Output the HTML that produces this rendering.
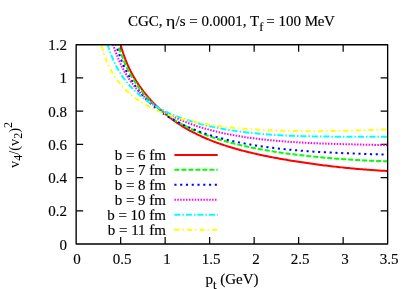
<!DOCTYPE html>
<html><head><meta charset="utf-8"><title>plot</title>
<style>
html,body{margin:0;padding:0;background:#fff;}
body{width:413px;height:289px;position:relative;overflow:hidden;font-family:"Liberation Serif",serif;font-size:15px;color:#000;}
.t{position:absolute;white-space:nowrap;line-height:16px;height:16px;will-change:transform;-webkit-text-stroke:0.15px #000;}
.r{text-align:right;}
.c{text-align:center;}
sub,sup{font-size:12.5px;line-height:0;vertical-align:baseline;position:relative;}
sub{top:5px;}
.rot{font-size:14.4px;-webkit-text-stroke:0;}
.rot sub,.rot sup{font-size:12px;}
.rot sub{top:3.2px;}
sup{top:-7.5px;}
</style></head><body>
<svg width="413" height="289" viewBox="0 0 413 289" style="position:absolute;left:0;top:0">
<defs><clipPath id="c"><rect x="76.15" y="44.7" width="311.5" height="199.3"/></clipPath></defs>
<path d="M120.65,244.0 v-7 M120.65,44.7 v7 M165.15,244.0 v-7 M165.15,44.7 v7 M209.65,244.0 v-7 M209.65,44.7 v7 M254.15,244.0 v-7 M254.15,44.7 v7 M298.65,244.0 v-7 M298.65,44.7 v7 M343.15,244.0 v-7 M343.15,44.7 v7 M76.15,210.78 h7 M387.65,210.78 h-7 M76.15,177.57 h7 M387.65,177.57 h-7 M76.15,144.35 h7 M387.65,144.35 h-7 M76.15,111.13 h7 M387.65,111.13 h-7 M76.15,77.92 h7 M387.65,77.92 h-7" fill="none" stroke="#000" stroke-width="1.2"/>
<g clip-path="url(#c)" fill="none" stroke-width="2">
<path d="M117.44,31.44 L117.85,33.40 L118.26,35.29 L118.67,37.10 L119.09,38.84 L119.50,40.52 L119.91,42.14 L120.32,43.71 L120.73,45.22 L121.14,46.68 L121.56,48.09 L121.97,49.46 L122.38,50.78 L122.79,52.07 L123.20,53.31 L123.61,54.53 L124.03,55.70 L124.44,56.85 L124.85,57.96 L125.26,59.05 L125.67,60.11 L126.08,61.14 L126.50,62.15 L126.91,63.14 L127.32,64.10 L127.73,65.04 L128.14,65.97 L128.55,66.87 L128.97,67.75 L129.38,68.62 L129.79,69.47 L130.20,70.30 L130.61,71.12 L131.02,71.92 L131.44,72.71 L131.85,73.49 L132.26,74.25 L132.67,75.00 L133.08,75.74 L133.49,76.46 L133.91,77.18 L134.32,77.88 L134.73,78.58 L135.14,79.26 L135.55,79.93 L135.96,80.60 L136.37,81.26 L136.79,81.90 L137.20,82.54 L137.61,83.17 L138.02,83.80 L138.43,84.41 L138.84,85.02 L139.26,85.62 L139.67,86.21 L140.08,86.80 L140.49,87.38 L140.90,87.95 L141.31,88.52 L141.73,89.08 L142.14,89.63 L142.55,90.18 L142.96,90.73 L143.37,91.26 L143.78,91.80 L144.20,92.32 L144.61,92.85 L145.02,93.36 L145.43,93.87 L145.84,94.38 L146.25,94.88 L146.67,95.38 L147.08,95.87 L147.49,96.36 L147.90,96.84 L148.31,97.32 L148.72,97.80 L149.14,98.27 L149.55,98.73 L149.96,99.20 L150.37,99.65 L150.78,100.11 L151.19,100.56 L151.60,101.01 L152.02,101.45 L152.43,101.89 L152.84,102.32 L153.25,102.75 L153.66,103.18 L154.07,103.61 L154.49,104.03 L154.90,104.45 L155.31,104.86 L155.72,105.27 L156.13,105.68 L156.54,106.08 L156.96,106.48 L157.37,106.88 L157.78,107.28 L158.19,107.67 L158.60,108.06 L159.01,108.44 L159.43,108.83 L159.84,109.21 L160.25,109.58 L160.66,109.96 L161.07,110.33 L161.48,110.70 L161.90,111.06 L162.31,111.43 L162.72,111.79 L163.13,112.14 L163.54,112.50 L163.95,112.85 L164.37,113.20 L164.78,113.55 L165.19,113.89 L165.60,114.23 L166.01,114.57 L166.42,114.91 L166.83,115.24 L167.25,115.57 L167.66,115.90 L168.07,116.23 L168.48,116.55 L168.89,116.88 L169.30,117.19 L169.72,117.51 L170.13,117.83 L170.54,118.14 L170.95,118.45 L171.36,118.76 L171.77,119.07 L172.19,119.37 L172.60,119.67 L173.01,119.97 L173.42,120.27 L173.83,120.56 L174.24,120.86 L174.66,121.15 L175.07,121.44 L175.48,121.72 L175.89,122.01 L176.30,122.29 L176.71,122.57 L177.13,122.85 L177.54,123.13 L177.95,123.41 L178.36,123.68 L178.77,123.95 L179.18,124.22 L179.60,124.49 L180.01,124.75 L180.42,125.02 L180.83,125.28 L181.24,125.54 L181.65,125.80 L182.07,126.06 L182.48,126.31 L182.89,126.56 L183.30,126.82 L185.02,127.85 L186.74,128.85 L188.46,129.83 L190.18,130.78 L191.90,131.70 L193.62,132.60 L195.34,133.48 L197.06,134.33 L198.78,135.15 L200.50,135.96 L202.22,136.75 L203.94,137.51 L205.66,138.26 L207.38,138.99 L209.10,139.69 L210.82,140.38 L212.54,141.06 L214.26,141.72 L215.98,142.36 L217.70,142.98 L219.42,143.60 L221.14,144.19 L222.86,144.78 L224.58,145.35 L226.30,145.91 L228.02,146.45 L229.74,146.98 L231.46,147.50 L233.18,148.01 L234.91,148.51 L236.63,149.00 L238.35,149.48 L240.07,149.95 L241.79,150.41 L243.51,150.86 L245.23,151.30 L246.95,151.73 L248.67,152.16 L250.39,152.58 L252.11,152.98 L253.83,153.39 L255.55,153.78 L257.27,154.17 L258.99,154.55 L260.71,154.92 L262.43,155.29 L264.15,155.65 L265.87,156.01 L267.59,156.35 L269.31,156.70 L271.03,157.04 L272.75,157.37 L274.47,157.70 L276.19,158.02 L277.91,158.34 L279.63,158.65 L281.35,158.96 L283.07,159.26 L284.79,159.56 L286.51,159.85 L288.23,160.14 L289.95,160.43 L291.67,160.71 L293.39,160.99 L295.11,161.27 L296.83,161.54 L298.55,161.80 L300.27,162.07 L301.99,162.33 L303.71,162.58 L305.43,162.83 L307.15,163.08 L308.87,163.33 L310.59,163.57 L312.31,163.81 L314.03,164.04 L315.75,164.27 L317.47,164.50 L319.19,164.73 L320.91,164.95 L322.63,165.17 L324.35,165.39 L326.07,165.60 L327.79,165.81 L329.51,166.02 L331.23,166.22 L332.95,166.42 L334.67,166.62 L336.39,166.81 L338.12,167.00 L339.84,167.19 L341.56,167.37 L343.28,167.55 L345.00,167.73 L346.72,167.91 L348.44,168.08 L350.16,168.24 L351.88,168.41 L353.60,168.57 L355.32,168.73 L357.04,168.88 L358.76,169.04 L360.48,169.18 L362.20,169.33 L363.92,169.47 L365.64,169.61 L367.36,169.74 L369.08,169.87 L370.80,170.00 L372.52,170.12 L374.24,170.24 L375.96,170.35 L377.68,170.47 L379.40,170.57 L381.12,170.68 L382.84,170.78 L384.56,170.87 L386.28,170.96 L388.00,171.05" stroke="#ff0000"/>
<path d="M115.22,33.60 L115.64,35.36 L116.07,37.05 L116.49,38.70 L116.92,40.29 L117.34,41.83 L117.77,43.33 L118.19,44.78 L118.62,46.19 L119.04,47.56 L119.47,48.89 L119.90,50.19 L120.32,51.46 L120.75,52.69 L121.17,53.89 L121.60,55.06 L122.02,56.20 L122.45,57.32 L122.87,58.41 L123.30,59.48 L123.73,60.52 L124.15,61.54 L124.58,62.54 L125.00,63.52 L125.43,64.48 L125.85,65.41 L126.28,66.33 L126.70,67.24 L127.13,68.12 L127.56,68.99 L127.98,69.85 L128.41,70.68 L128.83,71.51 L129.26,72.32 L129.68,73.11 L130.11,73.89 L130.53,74.66 L130.96,75.42 L131.39,76.17 L131.81,76.90 L132.24,77.62 L132.66,78.33 L133.09,79.03 L133.51,79.72 L133.94,80.40 L134.36,81.07 L134.79,81.73 L135.21,82.38 L135.64,83.02 L136.07,83.66 L136.49,84.28 L136.92,84.90 L137.34,85.51 L137.77,86.11 L138.19,86.70 L138.62,87.29 L139.04,87.86 L139.47,88.43 L139.90,89.00 L140.32,89.55 L140.75,90.10 L141.17,90.65 L141.60,91.18 L142.02,91.72 L142.45,92.24 L142.87,92.76 L143.30,93.27 L143.73,93.78 L144.15,94.28 L144.58,94.77 L145.00,95.26 L145.43,95.75 L145.85,96.23 L146.28,96.70 L146.70,97.17 L147.13,97.64 L147.56,98.10 L147.98,98.55 L148.41,99.00 L148.83,99.45 L149.26,99.89 L149.68,100.32 L150.11,100.76 L150.53,101.18 L150.96,101.61 L151.39,102.03 L151.81,102.44 L152.24,102.85 L152.66,103.26 L153.09,103.66 L153.51,104.06 L153.94,104.46 L154.36,104.85 L154.79,105.24 L155.21,105.62 L155.64,106.01 L156.07,106.38 L156.49,106.76 L156.92,107.13 L157.34,107.49 L157.77,107.86 L158.19,108.22 L158.62,108.58 L159.04,108.93 L159.47,109.28 L159.90,109.63 L160.32,109.98 L160.75,110.32 L161.17,110.66 L161.60,110.99 L162.02,111.33 L162.45,111.66 L162.87,111.98 L163.30,112.31 L163.73,112.63 L164.15,112.95 L164.58,113.27 L165.00,113.58 L165.43,113.89 L165.85,114.20 L166.28,114.51 L166.70,114.81 L167.13,115.11 L167.56,115.41 L167.98,115.71 L168.41,116.00 L168.83,116.29 L169.26,116.58 L169.68,116.87 L170.11,117.16 L170.53,117.44 L170.96,117.72 L171.39,118.00 L171.81,118.27 L172.24,118.55 L172.66,118.82 L173.09,119.09 L173.51,119.36 L173.94,119.62 L174.36,119.88 L174.79,120.15 L175.21,120.40 L175.64,120.66 L176.07,120.92 L176.49,121.17 L176.92,121.42 L177.34,121.67 L177.77,121.92 L178.19,122.17 L178.62,122.41 L179.04,122.65 L179.47,122.89 L179.90,123.13 L180.32,123.37 L180.75,123.60 L181.17,123.84 L181.60,124.07 L182.02,124.30 L182.45,124.53 L182.87,124.76 L183.30,124.98 L185.02,125.88 L186.74,126.74 L188.46,127.59 L190.18,128.41 L191.90,129.21 L193.62,129.99 L195.34,130.74 L197.06,131.48 L198.78,132.20 L200.50,132.90 L202.22,133.58 L203.94,134.24 L205.66,134.89 L207.38,135.52 L209.10,136.13 L210.82,136.73 L212.54,137.32 L214.26,137.89 L215.98,138.45 L217.70,138.99 L219.42,139.53 L221.14,140.05 L222.86,140.55 L224.58,141.05 L226.30,141.54 L228.02,142.01 L229.74,142.47 L231.46,142.93 L233.18,143.37 L234.91,143.80 L236.63,144.23 L238.35,144.64 L240.07,145.05 L241.79,145.45 L243.51,145.84 L245.23,146.22 L246.95,146.59 L248.67,146.96 L250.39,147.32 L252.11,147.67 L253.83,148.01 L255.55,148.35 L257.27,148.68 L258.99,149.01 L260.71,149.32 L262.43,149.63 L264.15,149.94 L265.87,150.24 L267.59,150.53 L269.31,150.82 L271.03,151.10 L272.75,151.38 L274.47,151.65 L276.19,151.92 L277.91,152.18 L279.63,152.44 L281.35,152.69 L283.07,152.93 L284.79,153.18 L286.51,153.41 L288.23,153.65 L289.95,153.88 L291.67,154.10 L293.39,154.32 L295.11,154.54 L296.83,154.75 L298.55,154.96 L300.27,155.16 L301.99,155.36 L303.71,155.56 L305.43,155.75 L307.15,155.94 L308.87,156.13 L310.59,156.31 L312.31,156.49 L314.03,156.66 L315.75,156.83 L317.47,157.00 L319.19,157.17 L320.91,157.33 L322.63,157.49 L324.35,157.64 L326.07,157.79 L327.79,157.94 L329.51,158.09 L331.23,158.23 L332.95,158.37 L334.67,158.50 L336.39,158.64 L338.12,158.77 L339.84,158.90 L341.56,159.02 L343.28,159.14 L345.00,159.26 L346.72,159.38 L348.44,159.49 L350.16,159.60 L351.88,159.71 L353.60,159.81 L355.32,159.91 L357.04,160.01 L358.76,160.11 L360.48,160.20 L362.20,160.30 L363.92,160.38 L365.64,160.47 L367.36,160.55 L369.08,160.63 L370.80,160.71 L372.52,160.78 L374.24,160.86 L375.96,160.93 L377.68,160.99 L379.40,161.06 L381.12,161.12 L382.84,161.18 L384.56,161.23 L386.28,161.29 L388.00,161.34" stroke="#00ff00" stroke-dasharray="5 2" stroke-dashoffset="-0.5"/>
<path d="M112.99,33.28 L113.43,35.06 L113.87,36.79 L114.31,38.47 L114.75,40.10 L115.19,41.69 L115.63,43.23 L116.07,44.73 L116.51,46.19 L116.94,47.62 L117.38,49.00 L117.82,50.35 L118.26,51.67 L118.70,52.96 L119.14,54.21 L119.58,55.44 L120.02,56.63 L120.46,57.80 L120.90,58.94 L121.34,60.06 L121.78,61.15 L122.22,62.22 L122.66,63.27 L123.10,64.29 L123.54,65.29 L123.98,66.27 L124.42,67.23 L124.85,68.18 L125.29,69.10 L125.73,70.01 L126.17,70.90 L126.61,71.77 L127.05,72.62 L127.49,73.46 L127.93,74.29 L128.37,75.10 L128.81,75.89 L129.25,76.68 L129.69,77.45 L130.13,78.20 L130.57,78.94 L131.01,79.67 L131.45,80.39 L131.89,81.10 L132.33,81.79 L132.76,82.48 L133.20,83.15 L133.64,83.81 L134.08,84.46 L134.52,85.11 L134.96,85.74 L135.40,86.36 L135.84,86.98 L136.28,87.58 L136.72,88.18 L137.16,88.77 L137.60,89.35 L138.04,89.92 L138.48,90.48 L138.92,91.04 L139.36,91.59 L139.80,92.13 L140.24,92.66 L140.67,93.19 L141.11,93.71 L141.55,94.22 L141.99,94.73 L142.43,95.23 L142.87,95.72 L143.31,96.21 L143.75,96.69 L144.19,97.17 L144.63,97.64 L145.07,98.10 L145.51,98.56 L145.95,99.01 L146.39,99.46 L146.83,99.90 L147.27,100.34 L147.71,100.77 L148.14,101.20 L148.58,101.62 L149.02,102.04 L149.46,102.46 L149.90,102.87 L150.34,103.27 L150.78,103.67 L151.22,104.07 L151.66,104.46 L152.10,104.84 L152.54,105.23 L152.98,105.61 L153.42,105.98 L153.86,106.35 L154.30,106.72 L154.74,107.08 L155.18,107.44 L155.62,107.80 L156.05,108.15 L156.49,108.50 L156.93,108.85 L157.37,109.19 L157.81,109.53 L158.25,109.87 L158.69,110.20 L159.13,110.53 L159.57,110.86 L160.01,111.18 L160.45,111.50 L160.89,111.82 L161.33,112.13 L161.77,112.44 L162.21,112.75 L162.65,113.06 L163.09,113.36 L163.53,113.66 L163.96,113.96 L164.40,114.25 L164.84,114.54 L165.28,114.83 L165.72,115.12 L166.16,115.41 L166.60,115.69 L167.04,115.97 L167.48,116.25 L167.92,116.52 L168.36,116.79 L168.80,117.06 L169.24,117.33 L169.68,117.60 L170.12,117.86 L170.56,118.12 L171.00,118.38 L171.44,118.64 L171.87,118.89 L172.31,119.15 L172.75,119.40 L173.19,119.65 L173.63,119.89 L174.07,120.14 L174.51,120.38 L174.95,120.62 L175.39,120.86 L175.83,121.10 L176.27,121.33 L176.71,121.57 L177.15,121.80 L177.59,122.03 L178.03,122.26 L178.47,122.48 L178.91,122.71 L179.35,122.93 L179.78,123.15 L180.22,123.37 L180.66,123.59 L181.10,123.80 L181.54,124.02 L181.98,124.23 L182.42,124.44 L182.86,124.65 L183.30,124.86 L185.02,125.66 L186.74,126.44 L188.46,127.19 L190.18,127.93 L191.90,128.64 L193.62,129.34 L195.34,130.01 L197.06,130.67 L198.78,131.31 L200.50,131.94 L202.22,132.54 L203.94,133.14 L205.66,133.71 L207.38,134.27 L209.10,134.82 L210.82,135.36 L212.54,135.88 L214.26,136.38 L215.98,136.88 L217.70,137.36 L219.42,137.83 L221.14,138.29 L222.86,138.74 L224.58,139.17 L226.30,139.60 L228.02,140.01 L229.74,140.42 L231.46,140.81 L233.18,141.20 L234.91,141.57 L236.63,141.94 L238.35,142.30 L240.07,142.64 L241.79,142.98 L243.51,143.32 L245.23,143.64 L246.95,143.96 L248.67,144.26 L250.39,144.56 L252.11,144.86 L253.83,145.14 L255.55,145.42 L257.27,145.69 L258.99,145.96 L260.71,146.22 L262.43,146.47 L264.15,146.71 L265.87,146.95 L267.59,147.19 L269.31,147.41 L271.03,147.63 L272.75,147.85 L274.47,148.06 L276.19,148.27 L277.91,148.46 L279.63,148.66 L281.35,148.85 L283.07,149.03 L284.79,149.21 L286.51,149.39 L288.23,149.56 L289.95,149.72 L291.67,149.89 L293.39,150.04 L295.11,150.20 L296.83,150.35 L298.55,150.49 L300.27,150.63 L301.99,150.77 L303.71,150.90 L305.43,151.03 L307.15,151.16 L308.87,151.28 L310.59,151.40 L312.31,151.52 L314.03,151.63 L315.75,151.74 L317.47,151.85 L319.19,151.96 L320.91,152.06 L322.63,152.16 L324.35,152.25 L326.07,152.35 L327.79,152.44 L329.51,152.53 L331.23,152.61 L332.95,152.70 L334.67,152.78 L336.39,152.86 L338.12,152.94 L339.84,153.01 L341.56,153.09 L343.28,153.16 L345.00,153.23 L346.72,153.30 L348.44,153.37 L350.16,153.43 L351.88,153.50 L353.60,153.56 L355.32,153.62 L357.04,153.69 L358.76,153.74 L360.48,153.80 L362.20,153.86 L363.92,153.92 L365.64,153.97 L367.36,154.03 L369.08,154.08 L370.80,154.14 L372.52,154.19 L374.24,154.24 L375.96,154.29 L377.68,154.34 L379.40,154.39 L381.12,154.45 L382.84,154.50 L384.56,154.55 L386.28,154.60 L388.00,154.65" stroke="#0000ff" stroke-dasharray="2.1 3.67" stroke-dashoffset="1.25"/>
<path d="M109.88,33.24 L110.33,35.01 L110.79,36.72 L111.25,38.38 L111.71,39.99 L112.17,41.55 L112.63,43.07 L113.09,44.55 L113.55,45.98 L114.01,47.38 L114.46,48.73 L114.92,50.06 L115.38,51.34 L115.84,52.60 L116.30,53.82 L116.76,55.01 L117.22,56.18 L117.68,57.32 L118.14,58.43 L118.59,59.51 L119.05,60.57 L119.51,61.61 L119.97,62.62 L120.43,63.61 L120.89,64.58 L121.35,65.53 L121.81,66.46 L122.27,67.37 L122.72,68.26 L123.18,69.13 L123.64,69.99 L124.10,70.83 L124.56,71.66 L125.02,72.46 L125.48,73.26 L125.94,74.04 L126.40,74.80 L126.85,75.55 L127.31,76.29 L127.77,77.02 L128.23,77.73 L128.69,78.43 L129.15,79.12 L129.61,79.79 L130.07,80.46 L130.53,81.11 L130.98,81.76 L131.44,82.39 L131.90,83.02 L132.36,83.63 L132.82,84.24 L133.28,84.83 L133.74,85.42 L134.20,86.00 L134.66,86.56 L135.11,87.13 L135.57,87.68 L136.03,88.22 L136.49,88.76 L136.95,89.29 L137.41,89.81 L137.87,90.33 L138.33,90.84 L138.79,91.34 L139.25,91.83 L139.70,92.32 L140.16,92.80 L140.62,93.28 L141.08,93.75 L141.54,94.21 L142.00,94.67 L142.46,95.12 L142.92,95.56 L143.38,96.00 L143.83,96.44 L144.29,96.87 L144.75,97.29 L145.21,97.71 L145.67,98.13 L146.13,98.54 L146.59,98.94 L147.05,99.34 L147.51,99.74 L147.96,100.13 L148.42,100.51 L148.88,100.89 L149.34,101.27 L149.80,101.65 L150.26,102.02 L150.72,102.38 L151.18,102.74 L151.64,103.10 L152.09,103.45 L152.55,103.80 L153.01,104.15 L153.47,104.49 L153.93,104.83 L154.39,105.17 L154.85,105.50 L155.31,105.83 L155.77,106.15 L156.22,106.48 L156.68,106.79 L157.14,107.11 L157.60,107.42 L158.06,107.73 L158.52,108.04 L158.98,108.34 L159.44,108.64 L159.90,108.94 L160.35,109.23 L160.81,109.53 L161.27,109.81 L161.73,110.10 L162.19,110.38 L162.65,110.66 L163.11,110.94 L163.57,111.22 L164.03,111.49 L164.48,111.76 L164.94,112.03 L165.40,112.30 L165.86,112.56 L166.32,112.82 L166.78,113.08 L167.24,113.33 L167.70,113.59 L168.16,113.84 L168.62,114.09 L169.07,114.34 L169.53,114.58 L169.99,114.83 L170.45,115.07 L170.91,115.31 L171.37,115.54 L171.83,115.78 L172.29,116.01 L172.75,116.24 L173.20,116.47 L173.66,116.70 L174.12,116.92 L174.58,117.14 L175.04,117.36 L175.50,117.58 L175.96,117.80 L176.42,118.02 L176.88,118.23 L177.33,118.44 L177.79,118.65 L178.25,118.86 L178.71,119.07 L179.17,119.27 L179.63,119.48 L180.09,119.68 L180.55,119.88 L181.01,120.08 L181.46,120.27 L181.92,120.47 L182.38,120.66 L182.84,120.86 L183.30,121.05 L185.02,121.75 L186.74,122.43 L188.46,123.09 L190.18,123.74 L191.90,124.36 L193.62,124.97 L195.34,125.56 L197.06,126.13 L198.78,126.69 L200.50,127.23 L202.22,127.76 L203.94,128.27 L205.66,128.77 L207.38,129.25 L209.10,129.73 L210.82,130.19 L212.54,130.63 L214.26,131.07 L215.98,131.49 L217.70,131.90 L219.42,132.30 L221.14,132.69 L222.86,133.07 L224.58,133.44 L226.30,133.79 L228.02,134.14 L229.74,134.48 L231.46,134.81 L233.18,135.13 L234.91,135.45 L236.63,135.75 L238.35,136.04 L240.07,136.33 L241.79,136.61 L243.51,136.88 L245.23,137.14 L246.95,137.40 L248.67,137.65 L250.39,137.89 L252.11,138.13 L253.83,138.35 L255.55,138.58 L257.27,138.79 L258.99,139.00 L260.71,139.20 L262.43,139.40 L264.15,139.59 L265.87,139.78 L267.59,139.96 L269.31,140.13 L271.03,140.30 L272.75,140.46 L274.47,140.62 L276.19,140.78 L277.91,140.93 L279.63,141.07 L281.35,141.21 L283.07,141.35 L284.79,141.48 L286.51,141.61 L288.23,141.73 L289.95,141.85 L291.67,141.96 L293.39,142.08 L295.11,142.18 L296.83,142.29 L298.55,142.39 L300.27,142.49 L301.99,142.58 L303.71,142.67 L305.43,142.76 L307.15,142.85 L308.87,142.93 L310.59,143.01 L312.31,143.09 L314.03,143.16 L315.75,143.24 L317.47,143.31 L319.19,143.38 L320.91,143.44 L322.63,143.50 L324.35,143.57 L326.07,143.63 L327.79,143.68 L329.51,143.74 L331.23,143.80 L332.95,143.85 L334.67,143.90 L336.39,143.95 L338.12,144.00 L339.84,144.05 L341.56,144.10 L343.28,144.14 L345.00,144.19 L346.72,144.23 L348.44,144.27 L350.16,144.32 L351.88,144.36 L353.60,144.40 L355.32,144.44 L357.04,144.48 L358.76,144.52 L360.48,144.56 L362.20,144.60 L363.92,144.64 L365.64,144.68 L367.36,144.72 L369.08,144.76 L370.80,144.80 L372.52,144.84 L374.24,144.88 L375.96,144.92 L377.68,144.96 L379.40,145.01 L381.12,145.05 L382.84,145.09 L384.56,145.14 L386.28,145.19 L388.00,145.23" stroke="#ff00ff" stroke-dasharray="1.5 1.4" stroke-dashoffset="0"/>
<path d="M104.98,34.50 L105.47,36.52 L105.96,38.44 L106.45,40.29 L106.94,42.06 L107.43,43.76 L107.92,45.39 L108.41,46.96 L108.90,48.47 L109.39,49.93 L109.88,51.33 L110.36,52.69 L110.85,54.00 L111.34,55.27 L111.83,56.50 L112.32,57.69 L112.81,58.85 L113.30,59.97 L113.79,61.06 L114.28,62.12 L114.77,63.15 L115.26,64.15 L115.75,65.12 L116.24,66.08 L116.73,67.00 L117.22,67.91 L117.71,68.79 L118.20,69.65 L118.69,70.50 L119.18,71.32 L119.66,72.12 L120.15,72.91 L120.64,73.68 L121.13,74.44 L121.62,75.18 L122.11,75.90 L122.60,76.61 L123.09,77.31 L123.58,77.99 L124.07,78.66 L124.56,79.32 L125.05,79.96 L125.54,80.60 L126.03,81.22 L126.52,81.83 L127.01,82.43 L127.50,83.02 L127.99,83.60 L128.48,84.18 L128.97,84.74 L129.45,85.29 L129.94,85.84 L130.43,86.37 L130.92,86.90 L131.41,87.42 L131.90,87.93 L132.39,88.44 L132.88,88.93 L133.37,89.42 L133.86,89.91 L134.35,90.38 L134.84,90.85 L135.33,91.32 L135.82,91.77 L136.31,92.22 L136.80,92.67 L137.29,93.11 L137.78,93.54 L138.27,93.97 L138.76,94.39 L139.25,94.80 L139.73,95.21 L140.22,95.62 L140.71,96.02 L141.20,96.42 L141.69,96.81 L142.18,97.19 L142.67,97.58 L143.16,97.95 L143.65,98.33 L144.14,98.69 L144.63,99.06 L145.12,99.42 L145.61,99.78 L146.10,100.13 L146.59,100.47 L147.08,100.82 L147.57,101.16 L148.06,101.50 L148.55,101.83 L149.03,102.16 L149.52,102.48 L150.01,102.81 L150.50,103.12 L150.99,103.44 L151.48,103.75 L151.97,104.06 L152.46,104.37 L152.95,104.67 L153.44,104.97 L153.93,105.26 L154.42,105.56 L154.91,105.85 L155.40,106.14 L155.89,106.42 L156.38,106.70 L156.87,106.98 L157.36,107.26 L157.85,107.53 L158.34,107.80 L158.82,108.07 L159.31,108.34 L159.80,108.60 L160.29,108.86 L160.78,109.12 L161.27,109.37 L161.76,109.63 L162.25,109.88 L162.74,110.13 L163.23,110.37 L163.72,110.62 L164.21,110.86 L164.70,111.10 L165.19,111.34 L165.68,111.57 L166.17,111.81 L166.66,112.04 L167.15,112.27 L167.64,112.49 L168.13,112.72 L168.62,112.94 L169.10,113.16 L169.59,113.38 L170.08,113.60 L170.57,113.81 L171.06,114.03 L171.55,114.24 L172.04,114.45 L172.53,114.65 L173.02,114.86 L173.51,115.06 L174.00,115.27 L174.49,115.47 L174.98,115.67 L175.47,115.86 L175.96,116.06 L176.45,116.25 L176.94,116.44 L177.43,116.63 L177.92,116.82 L178.41,117.01 L178.89,117.20 L179.38,117.38 L179.87,117.56 L180.36,117.74 L180.85,117.92 L181.34,118.10 L181.83,118.28 L182.32,118.45 L182.81,118.63 L183.30,118.80 L185.02,119.39 L186.74,119.97 L188.46,120.53 L190.18,121.07 L191.90,121.60 L193.62,122.12 L195.34,122.62 L197.06,123.10 L198.78,123.57 L200.50,124.03 L202.22,124.48 L203.94,124.91 L205.66,125.33 L207.38,125.74 L209.10,126.13 L210.82,126.52 L212.54,126.89 L214.26,127.26 L215.98,127.61 L217.70,127.96 L219.42,128.29 L221.14,128.61 L222.86,128.93 L224.58,129.23 L226.30,129.53 L228.02,129.82 L229.74,130.09 L231.46,130.36 L233.18,130.63 L234.91,130.88 L236.63,131.13 L238.35,131.36 L240.07,131.60 L241.79,131.82 L243.51,132.04 L245.23,132.25 L246.95,132.45 L248.67,132.65 L250.39,132.84 L252.11,133.02 L253.83,133.20 L255.55,133.37 L257.27,133.53 L258.99,133.69 L260.71,133.84 L262.43,133.99 L264.15,134.14 L265.87,134.27 L267.59,134.41 L269.31,134.53 L271.03,134.65 L272.75,134.77 L274.47,134.88 L276.19,134.99 L277.91,135.10 L279.63,135.20 L281.35,135.29 L283.07,135.38 L284.79,135.47 L286.51,135.55 L288.23,135.63 L289.95,135.70 L291.67,135.78 L293.39,135.84 L295.11,135.91 L296.83,135.97 L298.55,136.03 L300.27,136.08 L301.99,136.13 L303.71,136.18 L305.43,136.23 L307.15,136.27 L308.87,136.31 L310.59,136.35 L312.31,136.39 L314.03,136.42 L315.75,136.45 L317.47,136.48 L319.19,136.50 L320.91,136.53 L322.63,136.55 L324.35,136.57 L326.07,136.59 L327.79,136.60 L329.51,136.62 L331.23,136.63 L332.95,136.64 L334.67,136.65 L336.39,136.66 L338.12,136.67 L339.84,136.68 L341.56,136.68 L343.28,136.69 L345.00,136.69 L346.72,136.69 L348.44,136.69 L350.16,136.69 L351.88,136.69 L353.60,136.69 L355.32,136.69 L357.04,136.69 L358.76,136.69 L360.48,136.69 L362.20,136.69 L363.92,136.68 L365.64,136.68 L367.36,136.68 L369.08,136.68 L370.80,136.67 L372.52,136.67 L374.24,136.67 L375.96,136.67 L377.68,136.67 L379.40,136.67 L381.12,136.67 L382.84,136.67 L384.56,136.67 L386.28,136.68 L388.00,136.68" stroke="#00ffff" stroke-dasharray="6 2 1.5 2" stroke-dashoffset="1.56"/>
<path d="M98.30,27.67 L98.84,31.13 L99.37,34.30 L99.90,37.22 L100.43,39.92 L100.96,42.42 L101.49,44.74 L102.02,46.91 L102.55,48.94 L103.09,50.85 L103.62,52.65 L104.15,54.35 L104.68,55.96 L105.21,57.49 L105.74,58.94 L106.27,60.33 L106.80,61.65 L107.34,62.92 L107.87,64.14 L108.40,65.31 L108.93,66.43 L109.46,67.52 L109.99,68.57 L110.52,69.58 L111.05,70.56 L111.59,71.51 L112.12,72.43 L112.65,73.32 L113.18,74.19 L113.71,75.04 L114.24,75.86 L114.77,76.66 L115.30,77.44 L115.84,78.20 L116.37,78.95 L116.90,79.67 L117.43,80.38 L117.96,81.08 L118.49,81.76 L119.02,82.42 L119.55,83.07 L120.08,83.71 L120.62,84.34 L121.15,84.95 L121.68,85.55 L122.21,86.14 L122.74,86.72 L123.27,87.29 L123.80,87.85 L124.33,88.40 L124.87,88.94 L125.40,89.47 L125.93,89.99 L126.46,90.50 L126.99,91.01 L127.52,91.50 L128.05,91.99 L128.58,92.47 L129.12,92.94 L129.65,93.41 L130.18,93.86 L130.71,94.31 L131.24,94.76 L131.77,95.19 L132.30,95.62 L132.83,96.05 L133.37,96.47 L133.90,96.88 L134.43,97.28 L134.96,97.68 L135.49,98.08 L136.02,98.47 L136.55,98.85 L137.08,99.23 L137.62,99.60 L138.15,99.97 L138.68,100.33 L139.21,100.69 L139.74,101.04 L140.27,101.39 L140.80,101.73 L141.33,102.07 L141.86,102.41 L142.40,102.74 L142.93,103.06 L143.46,103.39 L143.99,103.70 L144.52,104.02 L145.05,104.33 L145.58,104.63 L146.11,104.94 L146.65,105.23 L147.18,105.53 L147.71,105.82 L148.24,106.11 L148.77,106.39 L149.30,106.67 L149.83,106.95 L150.36,107.22 L150.90,107.49 L151.43,107.76 L151.96,108.02 L152.49,108.28 L153.02,108.54 L153.55,108.79 L154.08,109.05 L154.61,109.30 L155.15,109.54 L155.68,109.78 L156.21,110.02 L156.74,110.26 L157.27,110.50 L157.80,110.73 L158.33,110.96 L158.86,111.18 L159.40,111.41 L159.93,111.63 L160.46,111.85 L160.99,112.06 L161.52,112.28 L162.05,112.49 L162.58,112.70 L163.11,112.91 L163.64,113.11 L164.18,113.31 L164.71,113.51 L165.24,113.71 L165.77,113.91 L166.30,114.10 L166.83,114.29 L167.36,114.48 L167.89,114.67 L168.43,114.86 L168.96,115.04 L169.49,115.22 L170.02,115.40 L170.55,115.58 L171.08,115.76 L171.61,115.93 L172.14,116.10 L172.68,116.27 L173.21,116.44 L173.74,116.61 L174.27,116.77 L174.80,116.94 L175.33,117.10 L175.86,117.26 L176.39,117.42 L176.93,117.57 L177.46,117.73 L177.99,117.88 L178.52,118.03 L179.05,118.18 L179.58,118.33 L180.11,118.48 L180.64,118.63 L181.18,118.77 L181.71,118.91 L182.24,119.05 L182.77,119.19 L183.30,119.33 L185.02,119.77 L186.74,120.19 L188.46,120.61 L190.18,121.00 L191.90,121.39 L193.62,121.76 L195.34,122.12 L197.06,122.47 L198.78,122.81 L200.50,123.14 L202.22,123.45 L203.94,123.76 L205.66,124.06 L207.38,124.35 L209.10,124.63 L210.82,124.90 L212.54,125.16 L214.26,125.41 L215.98,125.66 L217.70,125.89 L219.42,126.12 L221.14,126.35 L222.86,126.56 L224.58,126.77 L226.30,126.97 L228.02,127.17 L229.74,127.36 L231.46,127.54 L233.18,127.72 L234.91,127.89 L236.63,128.05 L238.35,128.21 L240.07,128.36 L241.79,128.51 L243.51,128.65 L245.23,128.79 L246.95,128.92 L248.67,129.05 L250.39,129.18 L252.11,129.29 L253.83,129.41 L255.55,129.52 L257.27,129.62 L258.99,129.72 L260.71,129.82 L262.43,129.91 L264.15,130.00 L265.87,130.09 L267.59,130.17 L269.31,130.25 L271.03,130.32 L272.75,130.39 L274.47,130.46 L276.19,130.52 L277.91,130.58 L279.63,130.64 L281.35,130.69 L283.07,130.74 L284.79,130.79 L286.51,130.83 L288.23,130.87 L289.95,130.91 L291.67,130.94 L293.39,130.97 L295.11,131.00 L296.83,131.03 L298.55,131.05 L300.27,131.07 L301.99,131.09 L303.71,131.11 L305.43,131.12 L307.15,131.13 L308.87,131.14 L310.59,131.14 L312.31,131.15 L314.03,131.15 L315.75,131.15 L317.47,131.14 L319.19,131.13 L320.91,131.13 L322.63,131.12 L324.35,131.10 L326.07,131.09 L327.79,131.07 L329.51,131.05 L331.23,131.03 L332.95,131.01 L334.67,130.98 L336.39,130.95 L338.12,130.92 L339.84,130.89 L341.56,130.86 L343.28,130.82 L345.00,130.78 L346.72,130.74 L348.44,130.70 L350.16,130.66 L351.88,130.62 L353.60,130.57 L355.32,130.52 L357.04,130.47 L358.76,130.42 L360.48,130.37 L362.20,130.31 L363.92,130.25 L365.64,130.20 L367.36,130.14 L369.08,130.07 L370.80,130.01 L372.52,129.94 L374.24,129.88 L375.96,129.81 L377.68,129.74 L379.40,129.67 L381.12,129.60 L382.84,129.52 L384.56,129.45 L386.28,129.37 L388.00,129.29" stroke="#ffff00" stroke-dasharray="5 2.9 1.4 3.3" stroke-dashoffset="6.84"/>
</g>
<g fill="none" stroke-width="2">
<path d="M174.4,154.9 H217.7" stroke="#ff0000"/>
<path d="M174.4,169.85 H217.7" stroke="#00ff00" stroke-dasharray="5 2"/>
<path d="M174.4,184.8 H217.7" stroke="#0000ff" stroke-dasharray="2.1 3.67"/>
<path d="M174.4,199.75 H217.7" stroke="#ff00ff" stroke-dasharray="1.5 1.4"/>
<path d="M174.4,214.7 H217.7" stroke="#00ffff" stroke-dasharray="6 2 1.5 2"/>
<path d="M174.4,229.65 H217.7" stroke="#ffff00" stroke-dasharray="5 2.9 1.4 3.3"/>
</g>
<rect x="76.15" y="44.7" width="311.50" height="199.30" fill="none" stroke="#000" stroke-width="1.35" stroke-linejoin="round"/>
</svg>
<div class="t" style="left:127.6px;top:13px">CGC, <span style="display:inline-block;transform:scaleX(1.18);transform-origin:0 50%;margin-right:1.4px">η</span>/s = 0.0001, T<sub style="margin-right:-0.8px">f</sub> = 100 <span style="letter-spacing:-0.4px">MeV</span></div>
<div class="t r" style="left:17.2px;width:50px;top:237px">0</div>
<div class="t r" style="left:17.2px;width:50px;top:203px">0.2</div>
<div class="t r" style="left:17.2px;width:50px;top:170px">0.4</div>
<div class="t r" style="left:17.2px;width:50px;top:137px">0.6</div>
<div class="t r" style="left:17.2px;width:50px;top:104px">0.8</div>
<div class="t r" style="left:17.2px;width:50px;top:70px">1</div>
<div class="t r" style="left:17.2px;width:50px;top:37px">1.2</div>
<div class="t c" style="left:47.2px;width:60px;top:251px">0</div>
<div class="t c" style="left:91.7px;width:60px;top:251px">0.5</div>
<div class="t c" style="left:137.2px;width:60px;top:251px">1</div>
<div class="t c" style="left:180.7px;width:60px;top:251px">1.5</div>
<div class="t c" style="left:226.2px;width:60px;top:251px">2</div>
<div class="t c" style="left:269.6px;width:60px;top:251px">2.5</div>
<div class="t c" style="left:315.1px;width:60px;top:251px">3</div>
<div class="t c" style="left:358.6px;width:60px;top:251px">3.5</div>
<div class="t c" style="left:182px;width:100px;top:271px">p<sub>t</sub> (GeV)</div>
<div class="t r" style="left:66.3px;width:100px;top:146.5px">b = 6 fm</div>
<div class="t r" style="left:66.3px;width:100px;top:161.5px">b = 7 fm</div>
<div class="t r" style="left:66.3px;width:100px;top:176.5px">b = 8 fm</div>
<div class="t r" style="left:66.3px;width:100px;top:191.5px">b = 9 fm</div>
<div class="t r" style="left:66.3px;width:100px;top:206.5px">b = 10 fm</div>
<div class="t r" style="left:66.3px;width:100px;top:221.5px">b = 11 fm</div>
<div class="t c rot" style="left:-36.5px;width:100px;top:136.7px;transform:rotate(-90deg);transform-origin:50% 50%">v<sub>4</sub>/(v<sub>2</sub>)<sup>2</sup></div>
</body></html>
